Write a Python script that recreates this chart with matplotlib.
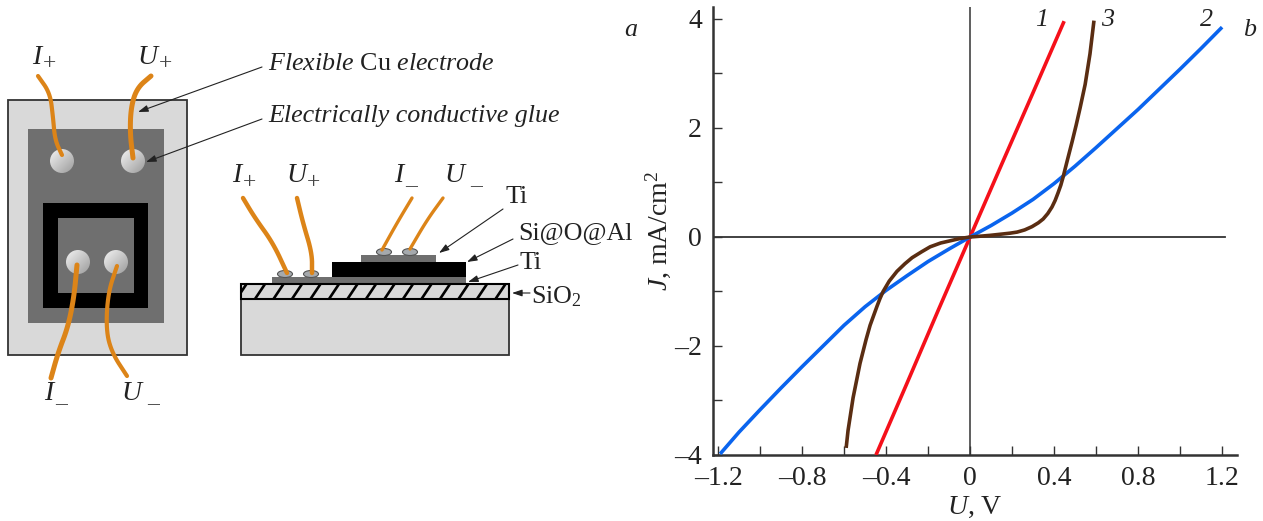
import numpy as np
import matplotlib
matplotlib.use("Agg")
import matplotlib.pyplot as plt
from matplotlib.patches import Rectangle, Circle, Ellipse

plt.rcParams["font.family"] = ["Liberation Serif", "DejaVu Serif"]
plt.rcParams["mathtext.fontset"] = "custom"
plt.rcParams["mathtext.rm"] = "Liberation Serif"
plt.rcParams["mathtext.it"] = "Liberation Serif:italic"

W, H = 1263, 521
FS = 18.7

# I-V curves
u1 = [-0.448, -0.3, -0.15, 0, 0.15, 0.3, 0.448]
j1 = [-4.0, -2.68, -1.33, 0, 1.33, 2.65, 3.96]

u2 = [-1.19, -1.1, -1.0, -0.9, -0.8, -0.7, -0.6, -0.5, -0.4, -0.3, -0.2, -0.1, 0,
      0.1, 0.2, 0.3, 0.4, 0.5, 0.6, 0.7, 0.8, 0.9, 1.0, 1.1, 1.2]
j2 = [-3.98, -3.58, -3.17, -2.77, -2.38, -2.0, -1.62, -1.28, -0.98, -0.71, -0.45, -0.22, 0,
      0.21, 0.44, 0.69, 0.98, 1.3, 1.64, 1.99, 2.34, 2.71, 3.08, 3.46, 3.85]

u3 = [-0.59, -0.581, -0.557, -0.524, -0.495, -0.476, -0.443, -0.429, -0.414, -0.385, -0.348,
      -0.31, -0.276, -0.23, -0.19, -0.14, -0.095, -0.05, 0, 0.05, 0.095, 0.143, 0.19, 0.224,
      0.26, 0.295, 0.325, 0.348, 0.37, 0.39, 0.405, 0.419, 0.432, 0.443, 0.462, 0.486,
      0.505, 0.524, 0.548, 0.571, 0.59]
j3 = [-3.87, -3.55, -2.95, -2.32, -1.88, -1.62, -1.27, -1.13, -1.0, -0.81, -0.63,
      -0.49, -0.38, -0.27, -0.18, -0.11, -0.07, -0.03, 0, 0.015, 0.03, 0.05, 0.07, 0.09,
      0.13, 0.19, 0.26, 0.33, 0.43, 0.55, 0.67, 0.81, 0.95, 1.10, 1.39, 1.75,
      2.05, 2.37, 2.80, 3.36, 3.97]

x_ticks = [-1.2, -1.0, -0.8, -0.6, -0.4, -0.2, 0, 0.2, 0.4, 0.6, 0.8, 1.0, 1.2]
x_tick_labels = ["–1.2", "", "–0.8", "", "–0.4", "", "0", "", "0.4", "", "0.8", "", "1.2"]
y_ticks = [-4, -3, -2, -1, 0, 1, 2, 3, 4]
y_tick_labels = ["–4", "", "–2", "", "0", "", "2", "", "4"]

# schematic, in picture pixels
top_rects = [
    (8, 100, 179, 255, "#d9d9d9", "#333333"),
    (28, 129, 136, 194, "#6f6f6f", "none"),
    (43, 203, 105, 105, "black", "none"),
    (58, 218, 76, 75, "#6f6f6f", "none"),
]
side_rects = [
    (241, 299, 268, 56, "#d9d9d9", "#333333"),
    (272, 277, 194, 7, "#6f6f6f", "none"),
    (332, 262, 134, 15, "black", "none"),
    (361, 255, 75, 7, "#6f6f6f", "none"),
]
glue_dots = [(62, 161), (133, 161), (78, 262), (116, 262)]
side_dots = [(285, 274), (311, 274), (384, 252), (410, 252)]

wires = [
    ([(38, 76), (50, 93), (53, 117), (55, 140), (62, 155)], 3.0),
    ([(151, 76), (137, 88), (131, 107), (130, 133), (133, 158)], 3.6),
    ([(77, 265), (74, 297), (68, 327), (58, 353), (51, 378)], 3.6),
    ([(117, 266), (108, 293), (106, 330), (112, 353), (127, 376)], 3.0),
    ([(243, 198), (255, 218), (273, 243), (287, 273)], 3.2),
    ([(297, 198), (303, 223), (312, 253), (312, 273)], 3.2),
    ([(412, 198), (397, 223), (382, 250)], 2.4),
    ([(443, 198), (427, 220), (410, 249)], 2.4),
]

leaders = [
    ((262, 67), (138, 112)),
    ((262, 119), (146, 162)),
    ((503, 209), (439, 253)),
    ((513, 239), (467, 262)),
    ((518, 265), (468, 282)),
    ((530, 293), (512, 293)),
]

# contact names: letter x, y, sign, sign x, sign y
contacts = [
    ("I", 37, 57, "+", 49, 64),
    ("U", 147, 57, "+", 165, 64),
    ("I", 49, 394, "–", 61, 405),
    ("U", 131, 394, "–", 153, 405),
    ("I", 237, 176, "+", 249, 183),
    ("U", 296, 176, "+", 314, 183),
    ("I", 399, 176, "–", 411, 187),
    ("U", 454, 176, "–", 476, 187),
]

labels = [
    (268, 64, r"$\mathit{Flexible}$ Cu $\mathit{electrode}$", "left", "normal"),
    (268, 116, "Electrically conductive glue", "left", "italic"),
    (506, 197, "Ti", "left", "normal"),
    (518, 233, "Si@O@Al", "left", "normal"),
    (520, 263, "Ti", "left", "normal"),
    (531, 297, r"SiO$_2$", "left", "normal"),
    (631, 30, "a", "center", "italic"),
    (1250, 30, "b", "center", "italic"),
    (1042, 20, "1", "center", "italic"),
    (1108, 20, "3", "center", "italic"),
    (1206, 20, "2", "center", "italic"),
]

ORANGE = "#dc8418"
fig = plt.figure(figsize=(W / 100, H / 100), dpi=100, facecolor="white")

# overlay in pixels for panel a
bg = fig.add_axes([0, 0, 1, 1])
bg.axis("off")


def draw_rects(rects):
    for x, y, w, h, fc, ec in rects:
        bg.add_patch(Rectangle((x, y), w, h, fc=fc, ec=ec, lw=1.3))


def smooth(points):
    # only rounds the corners of the hand drawn wire
    pts = np.array(points, dtype=float)
    out = pts
    for _ in range(3):
        a = out[:-1] * 0.75 + out[1:] * 0.25
        b = out[:-1] * 0.25 + out[1:] * 0.75
        mid = np.empty((a.shape[0] * 2, 2))
        mid[0::2] = a
        mid[1::2] = b
        out = np.vstack([pts[0], mid, pts[-1]])
    return out


draw_rects(top_rects)
draw_rects(side_rects)

# SiO2 layer with slanted stripes
sio2 = Rectangle((241, 284), 268, 15, fc="#d9d9d9", ec="black", lw=1.5, zorder=2)
bg.add_patch(sio2)
for x0 in np.arange(241.5, 520, 18.5):
    line, = bg.plot([x0 - 5, x0 + 5], [299, 284], color="black", lw=1.9, zorder=2.5,
                    solid_capstyle="butt")
    line.set_clip_path(sio2)

# contact blobs with a light gradient
grad = np.linspace(0, 1, 64)[None, :] + np.linspace(0, 1, 64)[:, None]
for cx, cy in glue_dots:
    im = bg.imshow(0.95 - 0.17 * grad, cmap="gray", vmin=0, vmax=1, aspect="auto", zorder=3,
                   extent=(cx - 12, cx + 12, cy + 12, cy - 12))
    im.set_clip_path(Circle((cx, cy), 12, transform=bg.transData))
for cx, cy in side_dots:
    bg.add_patch(Ellipse((cx, cy), 15, 7, fc="#a5a9ad", ec="#555555", lw=0.8, zorder=3))
bg.set_xlim(0, W)
bg.set_ylim(H, 0)

for pts, lw in wires:
    s = smooth(pts)
    bg.plot(s[:, 0], s[:, 1], color=ORANGE, lw=lw, zorder=4, solid_capstyle="round")

for start, end in leaders:
    bg.annotate("", xy=end, xytext=start, zorder=5,
                arrowprops=dict(arrowstyle="-|>,head_length=0.6,head_width=0.2",
                                color="#222222", lw=0.8, shrinkA=0, shrinkB=0))

for name, x, y, sign, sx, sy in contacts:
    bg.text(x, y, name, fontsize=20, style="italic", color="#222222", ha="center", va="center")
    bg.text(sx, sy, sign, fontsize=17, color="#444444", ha="center", va="center")

for x, y, s, ha, style in labels:
    bg.text(x, y, s, fontsize=FS, style=style, color="#222222", ha=ha, va="center")

# panel b
x_lo, x_hi = -1.224, 1.271
y_lo, y_hi = -4.0, 4.22
ax = fig.add_axes([713 / W, 1 - 455 / H, (1237 - 713) / W, (455 - 7) / H])
ax.patch.set_alpha(0)
ax.axhline(0, xmin=0, xmax=(1225 - 713) / (1237 - 713), color="#333333", lw=1.3, zorder=1)
ax.axvline(0, color="#333333", lw=1.1, zorder=1)
ax.plot(u1, j1, color="#f5101a", lw=2.6, solid_capstyle="butt", zorder=3)
ax.plot(u2, j2, color="#0a64ee", lw=2.6, solid_capstyle="butt", zorder=3)
ax.plot(u3, j3, color="#5a2d12", lw=2.6, solid_capstyle="butt", zorder=4)
ax.set_xlim(x_lo, x_hi)
ax.set_ylim(y_lo, y_hi)
ax.spines["top"].set_visible(False)
ax.spines["right"].set_visible(False)
ax.spines["left"].set_linewidth(1.8)
ax.spines["bottom"].set_linewidth(1.8)
ax.spines["left"].set_color("#333333")
ax.spines["bottom"].set_color("#333333")
ax.set_xticks(x_ticks, x_tick_labels)
ax.set_yticks(y_ticks, y_tick_labels)
ax.tick_params(direction="in", length=6.5, width=1.0, color="#333333",
               labelsize=20, labelcolor="#222222", pad=8)
ax.set_xlabel(r"$\mathit{U}$, V", fontsize=20, color="#222222", labelpad=3)
ax.set_ylabel(r"$\mathit{J}$, mA/cm$^2$", fontsize=20, color="#222222", labelpad=1)

fig.savefig("out.png", dpi=100)
